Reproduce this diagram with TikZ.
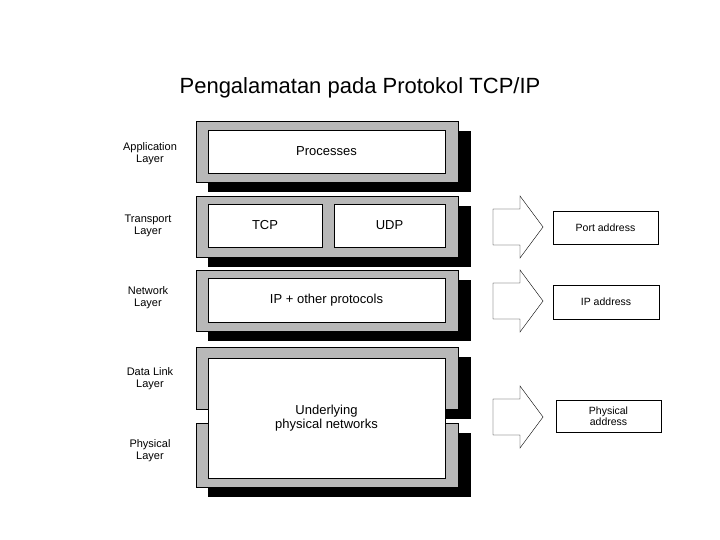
\documentclass[tikz,border=0pt]{standalone}
\usepackage{fontspec}
\setmainfont{Liberation Sans}
\begin{document}
\begin{tikzpicture}[x=1pt,y=-1pt,
  layer/.style={draw=black, fill=black!28},
  shadow/.style={fill=black},
  inner/.style={draw=black, fill=white, font=\fontsize{13}{14}\selectfont, align=center},
  lbl/.style={font=\fontsize{11}{12}\selectfont, align=center},
  addr/.style={draw=black, fill=white, font=\fontsize{10.5}{11}\selectfont, align=center, inner sep=0pt},
  blockarrow/.style={draw=black, fill=white}]
  \useasboundingbox (0,0) rectangle (720,540);
  \node[font=\fontsize{22}{24}\selectfont, anchor=center] (title) at (360,88) {Pengalamatan pada Protokol TCP/IP};

  % gray layer frames with shadows
  \foreach \ya/\yb in {121/182, 196/257, 270/331, 347/409, 423/487} {
    \fill[shadow] (208,\ya+10) rectangle (471,\yb+10);
    \draw[layer] (196,\ya) rectangle (458,\yb);
  }

  % inner boxes
  \node[inner, minimum width=237, minimum height=43] (proc) at (326.5,151.5) {Processes};
  \node[inner, minimum width=114, minimum height=43] (tcp) at (265,225.5) {TCP};
  \node[inner, minimum width=111, minimum height=43] (udp) at (389.5,225.5) {UDP};
  \node[inner, minimum width=237, minimum height=44] (ip) at (326.5,300) {IP + other protocols};
  \node[inner, minimum width=237, minimum height=120] (phy) at (326.5,418) {Underlying\\physical networks};

  % layer names
  \node[lbl] (lapp) at (150,154) {Application\\Layer};
  \node[lbl] (ltrans) at (148,226) {Transport\\Layer};
  \node[lbl] (lnet) at (148,298) {Network\\Layer};
  \node[lbl] (ldl) at (150,379) {Data Link\\Layer};
  \node[lbl] (lphy) at (150,451) {Physical\\Layer};

  % block arrows
  \foreach \yc in {227, 301, 417} {
    \draw[blockarrow] (493,\yc-18) -- (520,\yc-18) -- (520,\yc-31) -- (543,\yc)
      -- (520,\yc+31) -- (520,\yc+18) -- (493,\yc+18) -- cycle;
  }

  % addresses
  \node[addr, minimum width=105, minimum height=33] (port) at (605.5,227.5) {Port address};
  \node[addr, minimum width=106, minimum height=34] (ipaddr) at (606,302) {IP address};
  \node[addr, minimum width=105, minimum height=32] (phyaddr) at (608.5,416) {Physical\\address};
\end{tikzpicture}
\end{document}
